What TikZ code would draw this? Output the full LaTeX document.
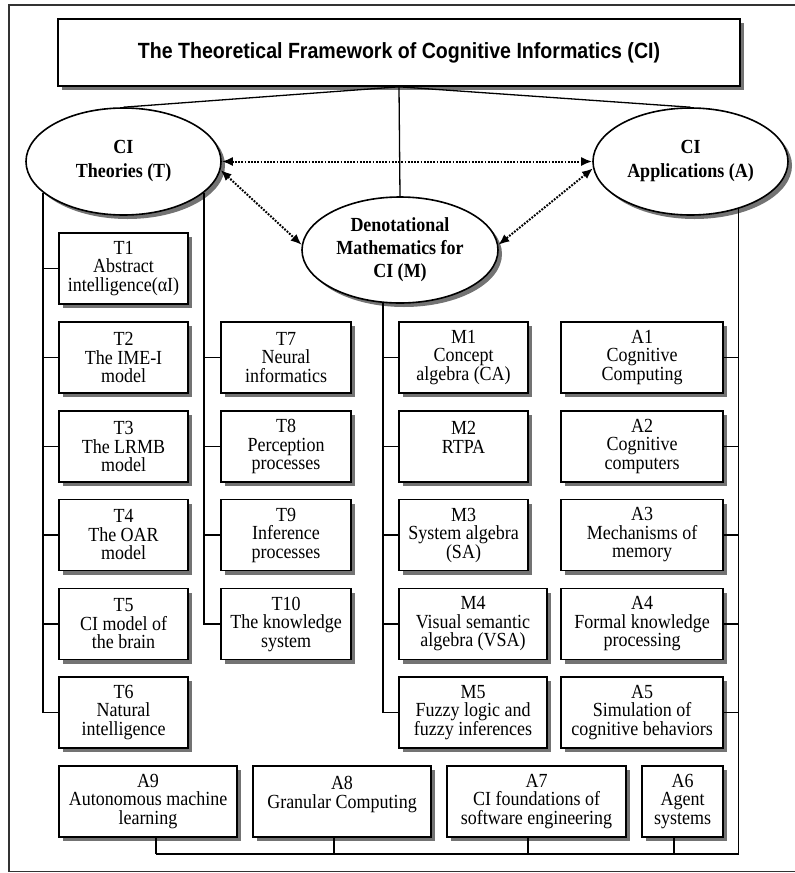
\documentclass[tikz,border=0pt]{standalone}
\usepackage{fontspec}
\setmainfont[FakeStretch=0.9]{Liberation Serif}
\newfontfamily\titlesans[FakeStretch=0.89]{Liberation Sans}
\usetikzlibrary{shapes.geometric,arrows.meta}
\newcommand\shbox[5]{%
  \fill[shadowfill] ({#2-#4/2+4},{#3-31.5}) rectangle ({#2+#4/2+4},{#3+39.5});
  \node[box,minimum width=#4pt] (#1) at (#2,#3) {#5};}
\begin{document}
\begin{tikzpicture}[x=1pt,y=-1pt,
  box/.style={draw,line width=1.6pt,fill=white,rectangle,inner sep=0pt,align=center,
    minimum height=71pt,font=\fontsize{20}{18.5}\selectfont},
  oval/.style={draw,line width=1.6pt,fill=white,ellipse,inner sep=0pt,align=center,
    font=\bfseries\fontsize{20}{24}\selectfont},
  titlebox/.style={draw,line width=1.6pt,fill=white,rectangle,inner sep=0pt,align=center},
  shadowfill/.style={fill=black!55},
  conn/.style={line width=1.3pt},
  dotarrow/.style={line width=2pt,dash pattern=on 1.8pt off 1.4pt,{Latex[length=11pt,width=9pt]}-{Latex[length=11pt,width=9pt]}}
]
\useasboundingbox (0,0) rectangle (795,873);
\draw[line width=1.5pt,black!80] (9,5) rectangle (798,871.5);

% title
\fill[shadowfill] (62,23) rectangle (744,90);
\node[titlebox,minimum width=682pt,minimum height=67pt] (title) at (399,52.5)
  {\titlesans\bfseries\fontsize{22}{24}\selectfont The Theoretical Framework of Cognitive Informatics (CI)};

% ellipses
\fill[shadowfill] (127.5,165.5) ellipse [x radius=97.5, y radius=53.5];
\fill[shadowfill] (694.5,165.5) ellipse [x radius=97.5, y radius=53.5];
\fill[shadowfill] (404,254) ellipse [x radius=98, y radius=53];
\node[oval,minimum width=195pt,minimum height=107pt] (T) at (123.5,161.5) {CI\\Theories (T)};
\node[oval,minimum width=195pt,minimum height=107pt] (A) at (690.5,161.5) {CI\\Applications (A)};
\node[oval,minimum width=196pt,minimum height=106pt,font=\bfseries\fontsize{20}{23}\selectfont] (M) at (400,250) {Denotational\\Mathematics for\\CI (M)};

% T column 1
\shbox{T1}{123.5}{268.5}{129}{T1\\Abstract\\intelligence(αI)}
\shbox{T2}{123.5}{357.5}{129}{T2\\The IME-I\\model}
\shbox{T3}{123.5}{446.5}{129}{T3\\The LRMB\\model}
\shbox{T4}{123.5}{535}{129}{T4\\The OAR\\model}
\shbox{T5}{123.5}{624}{129}{T5\\CI model of\\the brain}
\shbox{T6}{123.5}{712.5}{129}{T6\\Natural\\intelligence}

% T column 2
\shbox{T7}{286}{357.5}{130}{T7\\Neural\\informatics}
\shbox{T8}{286}{446.5}{130}{T8\\Perception\\processes}
\shbox{T9}{286}{535}{130}{T9\\Inference\\processes}
\shbox{T10}{286}{624}{130}{T10\\The knowledge\\system}

% M column
\shbox{M1}{463.5}{357.5}{129}{M1\\Concept\\algebra (CA)}
\shbox{M2}{463.5}{446.5}{129}{M2\\RTPA\\\mbox{}}
\shbox{M3}{463.5}{535}{129}{M3\\System algebra\\(SA)}
\shbox{M4}{473}{624}{148}{M4\\Visual semantic\\algebra (VSA)}
\shbox{M5}{473}{712.5}{148}{M5\\Fuzzy logic and\\fuzzy inferences}

% A column
\shbox{A1}{642}{357.5}{162}{A1\\Cognitive\\Computing}
\shbox{A2}{642}{446.5}{162}{A2\\Cognitive\\computers}
\shbox{A3}{642}{535}{162}{A3\\Mechanisms of\\memory}
\shbox{A4}{642}{624}{162}{A4\\Formal knowledge\\processing}
\shbox{A5}{642}{712.5}{162}{A5\\Simulation of\\cognitive behaviors}

% bottom row
\shbox{A9}{148}{801.5}{178}{A9\\Autonomous machine\\learning}
\shbox{A8}{342}{801.5}{178}{A8\\Granular Computing\\\mbox{}}
\shbox{A7}{536.5}{801.5}{179}{A7\\CI foundations of\\software engineering}
\shbox{A6}{682.5}{801.5}{81}{A6\\Agent\\systems}

% dotted arrows
\draw[dotarrow] (T.east) -- (A.west);
\draw[dotarrow] (T.-5) -- (M.177);
\draw[dotarrow] (A.184) -- (M.3);

% connectors (bus start points lie on the ellipse borders)
\coordinate (tbusA) at (43,192.5);
\coordinate (tbusB) at (204,192.5);
\coordinate (mbus) at (383,303);
\coordinate (abus) at (738.5,209);
\coordinate (bbus) at (738.5,854);
\coordinate (b9) at (156,854);
\coordinate (b8) at (334,854);
\coordinate (b7) at (528,854);
\coordinate (b6) at (674,854);
\draw[conn] (title.south) -- (T.north);
\draw[conn] (title.south) -- (A.north);
\draw[conn] (title.south) -- (M.north);
\draw[conn] (tbusA) |- (T6.west);
\foreach \n in {T1,T2,T3,T4,T5} \draw[conn] (tbusA |- \n.west) -- (\n.west);
\draw[conn] (tbusB) |- (T10.west);
\foreach \n in {T7,T8,T9} \draw[conn] (tbusB |- \n.west) -- (\n.west);
\draw[conn] (mbus) |- (M5.west);
\foreach \n in {M1,M2,M3,M4} \draw[conn] (mbus |- \n.west) -- (\n.west);
\draw[conn] (abus) -- (bbus) -- (b9);
\foreach \n in {A1,A2,A3,A4,A5} \draw[conn] (\n.east) -- (\n.east -| abus);
\draw[conn] (b9) -- (b9 |- A9.south);
\draw[conn] (b8) -- (b8 |- A8.south);
\draw[conn] (b7) -- (b7 |- A7.south);
\draw[conn] (b6) -- (b6 |- A6.south);
\end{tikzpicture}
\end{document}
